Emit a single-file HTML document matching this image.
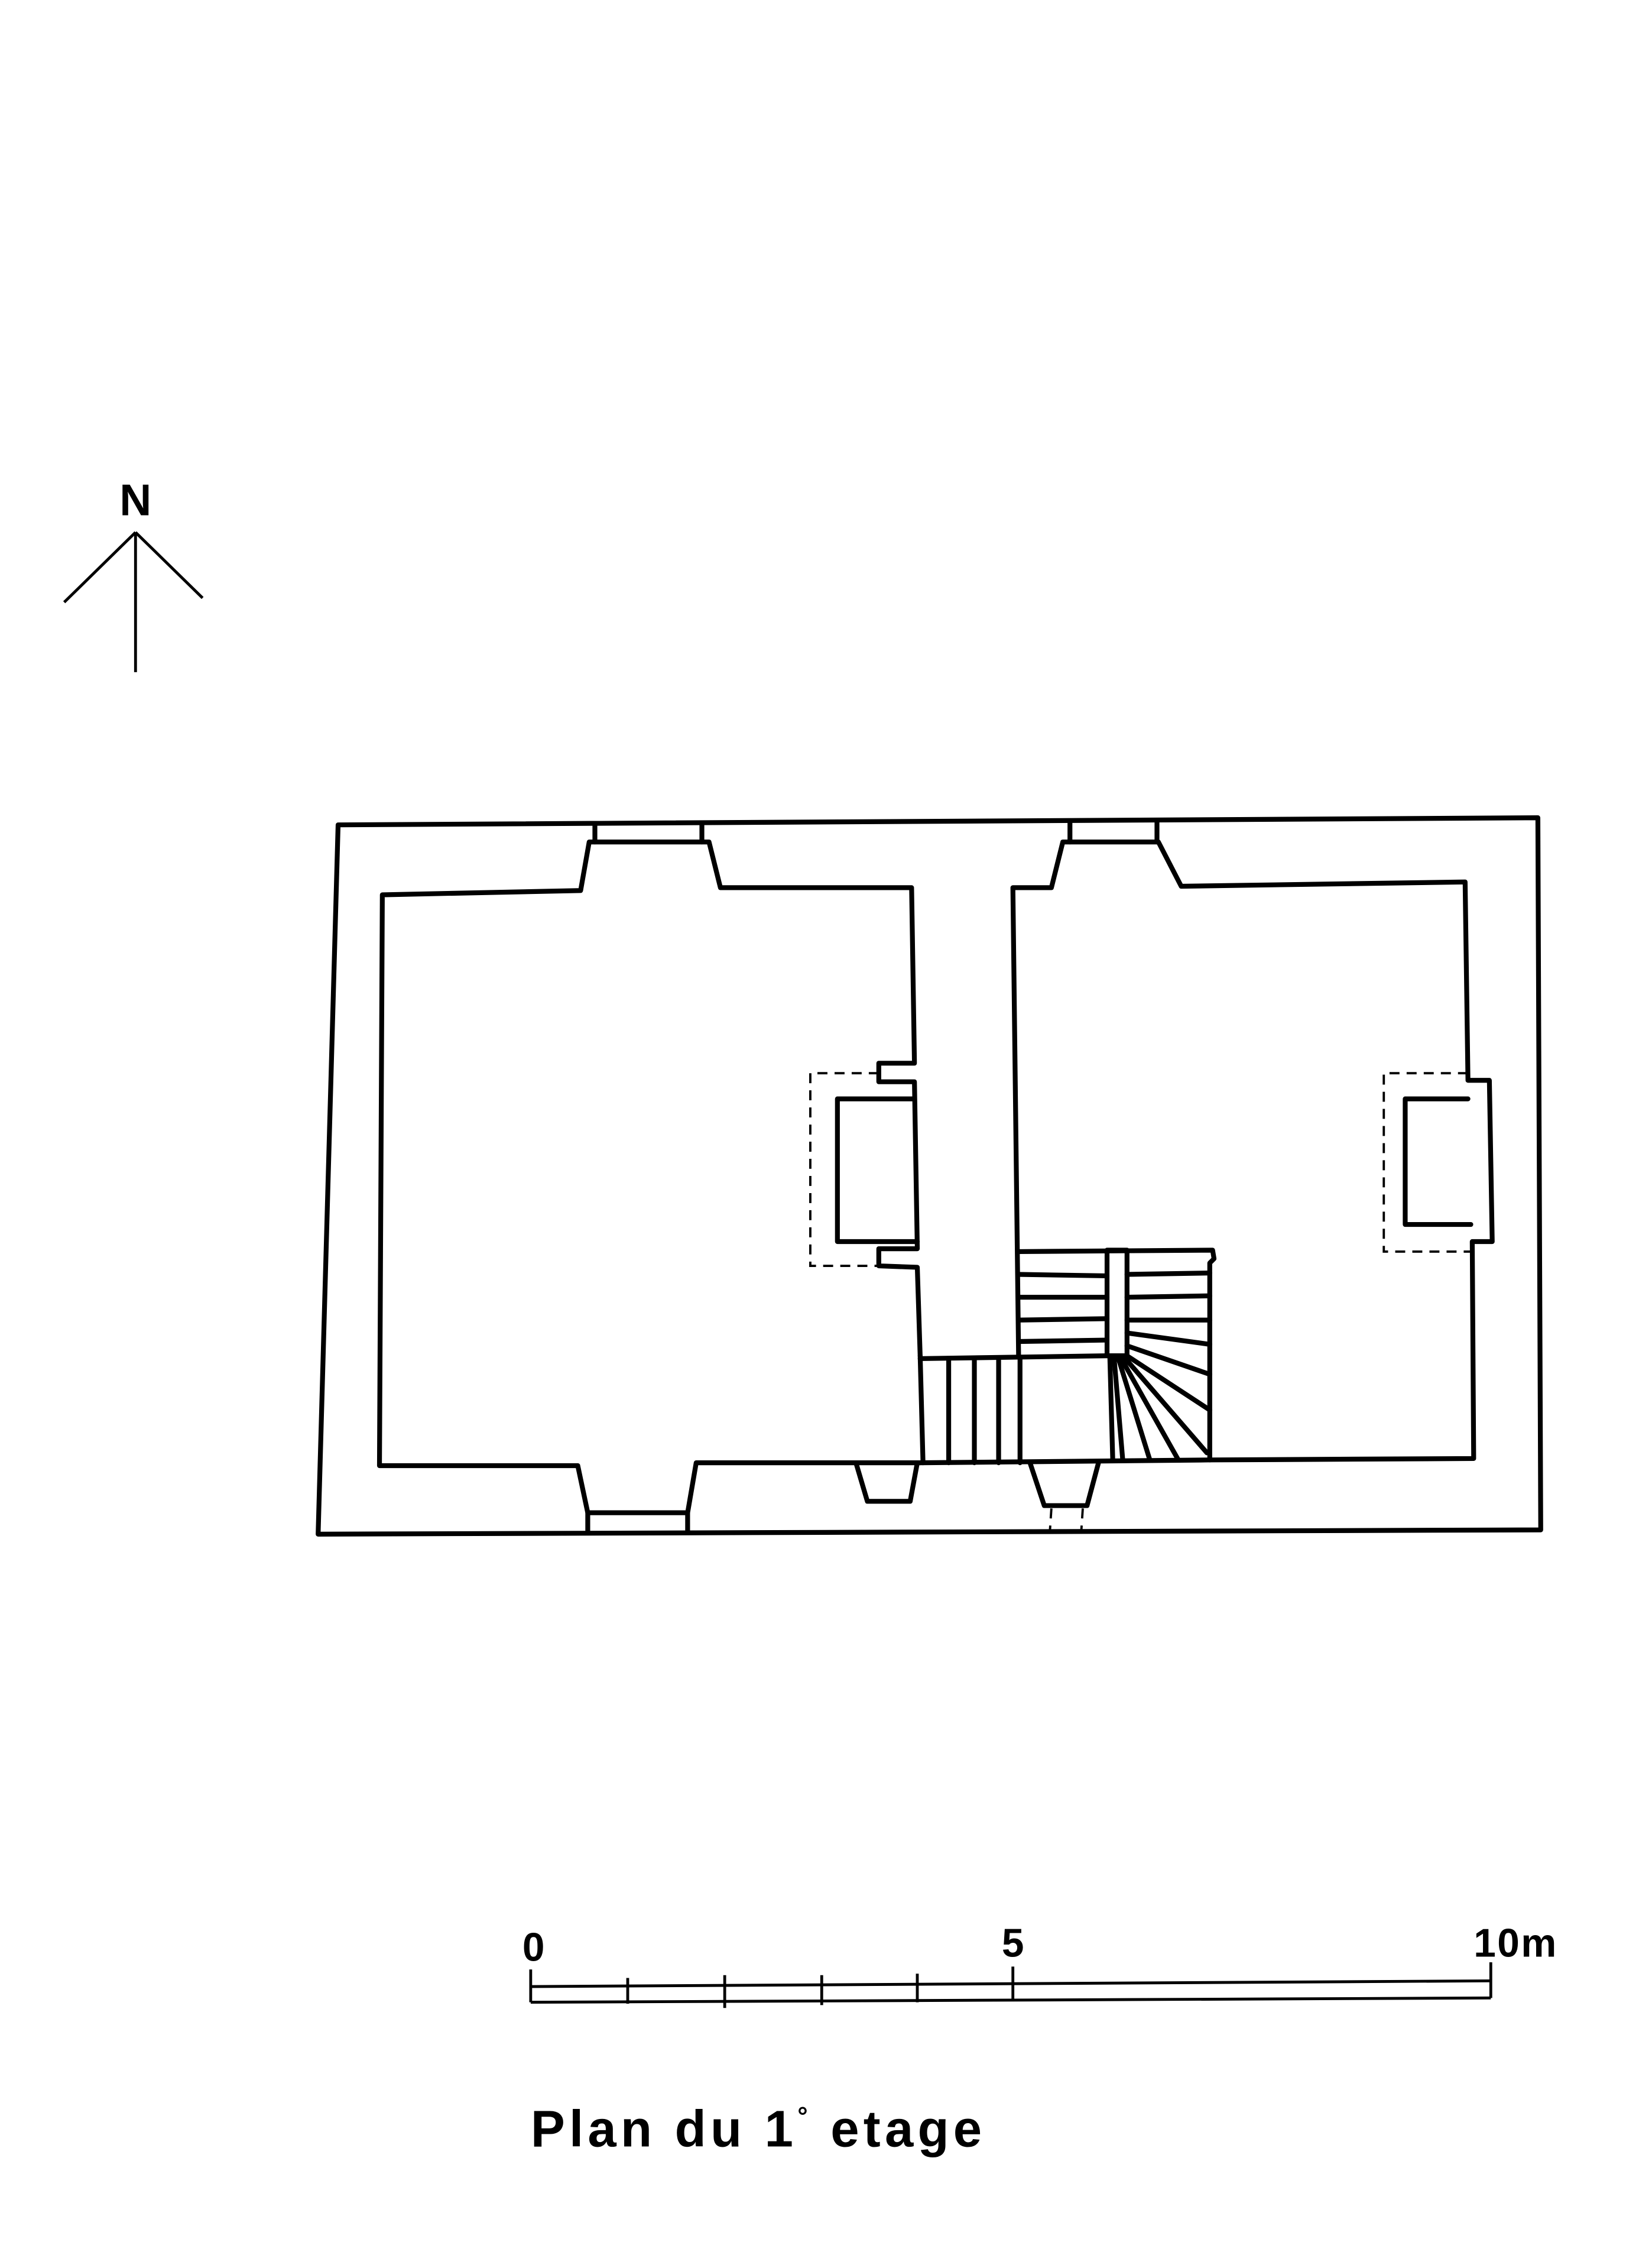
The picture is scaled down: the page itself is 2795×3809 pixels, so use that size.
<!DOCTYPE html>
<html><head><meta charset="utf-8"><style>
html,body{margin:0;padding:0;background:#fff;}
svg{display:block;}
</style></head><body>
<svg width="2795" height="3809" viewBox="0 0 1158 1578" preserveAspectRatio="none" xmlns="http://www.w3.org/2000/svg">
<g fill="none" stroke="#000" stroke-width="3.4" stroke-linejoin="round" stroke-linecap="round">
<polygon points="237,578 1078,573 1080,1072 223,1075"/>
<line x1="417" y1="578" x2="417" y2="590"/><line x1="492" y1="578" x2="492" y2="590"/>
<line x1="750" y1="576" x2="750" y2="590"/><line x1="811" y1="575" x2="811" y2="590"/>
<line x1="412" y1="1060" x2="412" y2="1074"/><line x1="482" y1="1060" x2="482" y2="1074"/>
<polyline points="645,950 643,888 616,887 616,875 643,875 641,758 616,758 616,745 641,745 639,622 505,622 497,590 413,590 407,624 268,627 266,1027 405,1027 412,1060 482,1060 488,1025 645,1025"/>
<polyline points="641,770 587,770 587,870 643,870"/>
<polyline points="714,950 710,622 737,622 745,590 812,590 828,621 1027,618 1029,757 1044,757 1046,870 1032,870 1033,1022 848,1023"/>
<polyline points="1029,770 985,770 985,858 1031,858"/>
<line x1="645" y1="1025" x2="848" y2="1023"/>
<polyline points="600,1025 608,1052 638,1052 643,1025"/>
<polyline points="722,1025 732,1055 762,1055 770,1025"/>
<line x1="645" y1="952" x2="776" y2="950"/>
<line x1="645" y1="950" x2="647" y2="1025"/>
<line x1="665" y1="953" x2="665" y2="1025"/>
<line x1="683" y1="953" x2="683" y2="1025"/>
<line x1="700" y1="953" x2="700" y2="1025"/>
<line x1="715" y1="952" x2="715" y2="1025"/>
<polyline points="714,877 850,876 851,882 848,885 848,1023"/>
<rect x="776" y="876" width="14" height="74"/>
<line x1="714" y1="893" x2="776" y2="894"/>
<line x1="714" y1="909" x2="776" y2="909"/>
<line x1="714" y1="925" x2="776" y2="924"/>
<line x1="714" y1="940" x2="776" y2="939"/>
<line x1="790" y1="893" x2="848" y2="892"/>
<line x1="790" y1="909" x2="848" y2="908"/>
<line x1="790" y1="925" x2="848" y2="925"/>
<line x1="790" y1="934" x2="848" y2="942"/>
<line x1="790" y1="943" x2="848" y2="963"/>
<line x1="790" y1="950" x2="848" y2="988"/>
<line x1="788" y1="951" x2="846" y2="1018"/>
<line x1="786" y1="952" x2="826" y2="1023"/>
<line x1="784" y1="952" x2="806" y2="1023"/>
<line x1="781" y1="952" x2="787" y2="1023"/>
<line x1="778" y1="952" x2="780" y2="1023"/>
</g>
<g fill="none" stroke="#000" stroke-width="1.6" stroke-dasharray="7,5">
<polyline points="616,752 568,752 568,887 616,887"/>
<polyline points="1029,752 970,752 970,877 1031,877"/>
<line x1="737" y1="1057" x2="736" y2="1072"/>
<line x1="759" y1="1057" x2="758" y2="1072"/>
</g>
<g stroke="#000" stroke-width="2" fill="none">
<line x1="95" y1="373" x2="95" y2="471"/>
<line x1="95" y1="373" x2="45" y2="422"/>
<line x1="95" y1="373" x2="142" y2="419"/>
</g>
<text x="95" y="361" font-family="Liberation Sans, sans-serif" font-weight="bold" font-size="31" text-anchor="middle">N</text>
<g stroke="#000" stroke-width="2" fill="none">
<line x1="372" y1="1392" x2="1045" y2="1388"/>
<line x1="372" y1="1403" x2="1045" y2="1400"/>
<line x1="372" y1="1380" x2="372" y2="1403"/>
<line x1="710" y1="1378" x2="710" y2="1401"/>
<line x1="1045" y1="1375" x2="1045" y2="1400"/>
<line x1="440" y1="1386" x2="440" y2="1404"/>
<line x1="508" y1="1384" x2="508" y2="1407"/>
<line x1="576" y1="1384" x2="576" y2="1405"/>
<line x1="643" y1="1383" x2="643" y2="1403"/>
</g>
<g font-family="Liberation Sans, sans-serif" font-weight="bold" font-size="28">
<text x="374" y="1374" text-anchor="middle">0</text>
<text x="710" y="1371" text-anchor="middle">5</text>
<text x="1033" y="1371" letter-spacing="1">10m</text>
</g>
<text x="372" y="1504" font-family="Liberation Sans, sans-serif" font-weight="bold" font-size="36" letter-spacing="3">Plan du 1<tspan font-size="18" dy="-15">°</tspan><tspan dy="15"> etage</tspan></text>
</svg>
</body></html>
